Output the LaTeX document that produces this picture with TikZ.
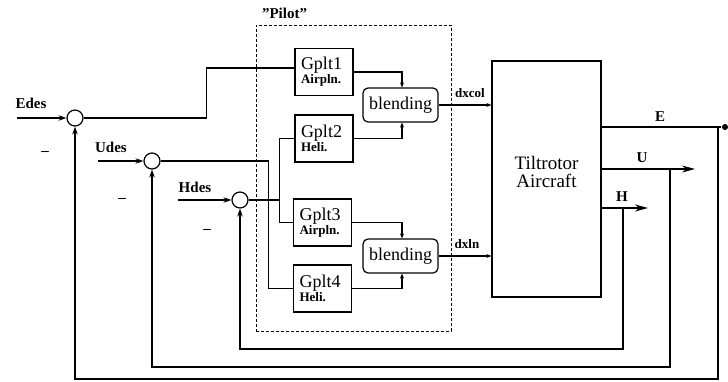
\documentclass[tikz,border=0pt]{standalone}
\usepackage{fontspec}
\setmainfont{Liberation Serif}[Ligatures=ResetAll]
\usetikzlibrary{arrows.meta, positioning, calc}

\begin{document}
\begin{tikzpicture}[x=1pt, y=-1pt, line width=1.1pt,
    gbox/.style={rectangle, draw, line width=1.2pt, minimum width=58pt, minimum height=47pt,
      inner sep=0pt, align=left, text width=46pt},
    blendbox/.style={rectangle, draw, line width=1.2pt, rounded corners=5pt, minimum width=75pt,
      minimum height=34pt, inner sep=0pt, font=\fontsize{18}{20}\selectfont},
    sumnode/.style={circle, draw, line width=1.2pt, minimum size=16pt, inner sep=0pt},
    sig/.style={font=\bfseries\fontsize{15}{17}\selectfont, inner sep=0pt},
    small/.style={font=\bfseries\fontsize{13}{15}\selectfont, inner sep=0pt},
    fbarrow/.style={-{Stealth[length=8pt, width=5.5pt]}},
    inarrow/.style={-{Stealth[length=5pt, width=4pt]}},
    outarrow/.style={-{Stealth[length=13pt, width=7pt]}}
  ]
  \useasboundingbox (0,0) rectangle (728,381);

  % summing junctions
  \node[sumnode] (sumE) at (75,118) {};
  \node[sumnode] (sumU) at (152,161) {};
  \node[sumnode] (sumH) at (240,200) {};
  \coordinate (eIn) at (17,118);
  \coordinate (uIn) at (98,161);
  \coordinate (hIn) at (178,200);
  \node[sig] (eDes) at (31,103) {Edes};
  \node[sig] (uDes) at (111,147) {Udes};
  \node[sig] (hDes) at (195,187) {Hdes};
  \node[sig] (mE) at (45,153) {–};
  \node[sig] (mU) at (122,200) {–};
  \node[sig] (mH) at (207,231) {–};
  \draw[fbarrow] (eIn) -- (sumE.west);
  \draw[fbarrow] (uIn) -- (sumU.west);
  \draw[fbarrow] (hIn) -- (sumH.west);

  % pilot
  \node[draw, densely dashed, line width=1pt, minimum width=195pt, minimum height=306pt] (pilot) at (353.5,178) {};
  \node[sig, anchor=south west] (pilotLbl) at ($(pilot.north west)+(6,-5)$) {"Pilot"};
  \node[gbox] (gA) at (324,72) {\fontsize{18}{20}\selectfont Gplt1\\\bfseries\fontsize{13}{23}\selectfont Airpln.};
  \node[gbox] (gB) at (324,138.5) {\fontsize{18}{20}\selectfont Gplt2\\\bfseries\fontsize{13}{23}\selectfont Heli.};
  \node[gbox] (gC) at (322.5,222.5) {\fontsize{18}{20}\selectfont Gplt3\\\bfseries\fontsize{13}{23}\selectfont Airpln.};
  \node[gbox] (gD) at (322.5,288.5) {\fontsize{18}{20}\selectfont Gplt4\\\bfseries\fontsize{13}{23}\selectfont Heli.};
  \node[blendbox] (bA) at (400.5,105) {blending};
  \node[blendbox] (bB) at (400.5,256) {blending};

  \draw (sumE.east) -- ++(123,0) |- ([yshift=4pt]gA.west);
  \draw (sumU.east) -- ++(108,0) |- (gD.west);
  \draw (sumH.east) -- ++(31,0) coordinate (hSplit);
  \draw (gB.west) -| (hSplit) |- (gC.west);
  \draw[inarrow] (gA.east) -| ([xshift=1.5pt]bA.north);
  \draw[inarrow] (gB.east) -| ([xshift=1.5pt]bA.south);
  \draw[inarrow] (gC.east) -| ([xshift=1.5pt]bB.north);
  \draw[inarrow] (gD.east) -| ([xshift=1.5pt]bB.south);

  % plant
  \node[draw, line width=1.2pt, minimum width=109pt, minimum height=236pt] (ac) at (546.5,179) {};
  \node[font=\fontsize{19}{18}\selectfont, align=center] (acLbl) at ($(ac.center)+(0,-7)$) {Tiltrotor\\Aircraft};
  \draw[inarrow] (bA.east) -- (bA.east -| ac.west);
  \draw[inarrow] (bB.east) -- (bB.east -| ac.west);
  \node[small] (dxcolLbl) at (470,93) {dxcol};
  \node[small] (dxlnLbl) at (467,244) {dxln};

  % outputs
  \node[circle, fill, inner sep=0pt, minimum size=6pt] (eDot) at (725,127) {};
  \coordinate (eTap) at (718,127);
  \coordinate (uTap) at (670,169);
  \coordinate (uEnd) at (695,169);
  \coordinate (hTap) at (623,208);
  \coordinate (hEnd) at (648,208);
  \draw (ac.east |- eDot) -- (eDot);
  \draw[outarrow] (ac.east |- uEnd) -- (uEnd);
  \draw[outarrow] (ac.east |- hEnd) -- (hEnd);
  \node[sig] (eLbl) at (660,117) {E};
  \node[sig] (uLbl) at (642,158) {U};
  \node[sig] (hLbl) at (622,197) {H};

  % feedback
  \draw[fbarrow] (eTap) -- ++(0,252) -| (sumE.south);
  \draw[fbarrow] (uTap) -- ++(0,198) -| (sumU.south);
  \draw[fbarrow] (hTap) -- ++(0,141) -| (sumH.south);
\end{tikzpicture}
\end{document}
